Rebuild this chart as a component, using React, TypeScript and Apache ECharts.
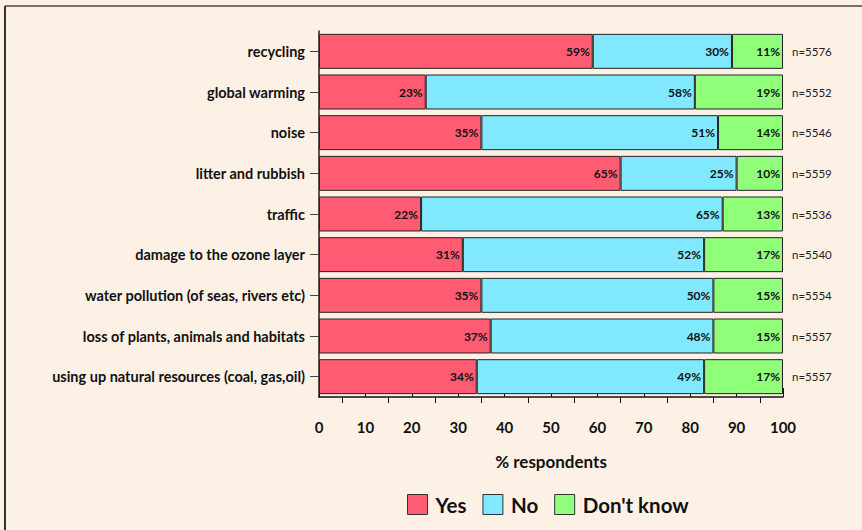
import React, { useEffect, useRef } from "react";
import * as echarts from "echarts";

const categories = [
  "recycling",
  "global warming",
  "noise",
  "litter and rubbish",
  "traffic",
  "damage to the ozone layer",
  "water pollution (of seas, rivers etc)",
  "loss of plants, animals and habitats",
  "using up natural resources (coal, gas,oil)",
];
const yesValues = [59, 23, 35, 65, 22, 31, 35, 37, 34];
const noValues = [30, 58, 51, 25, 65, 52, 50, 48, 49];
const dontKnowValues = [11, 19, 14, 10, 13, 17, 15, 15, 17];
const sampleSizes = ["n=5576", "n=5552", "n=5546", "n=5559", "n=5536", "n=5540", "n=5554", "n=5557", "n=5557"];
const xTicks = [0, 10, 20, 30, 40, 50, 60, 70, 80, 90, 100];
const minorTicks = [5, 15, 25, 35, 45, 55, 65, 75, 85, 95];

const FONT = "Lato, 'Open Sans', sans-serif";

export default function App() {
  const ref = useRef<HTMLDivElement>(null);
  useEffect(() => {
    if (!ref.current) return;
    const chart = echarts.init(ref.current, null, { renderer: "svg" });
    const label = {
      show: true,
      position: "insideRight",
      formatter: "{c}%",
      fontFamily: FONT,
      fontWeight: "bold",
      fontSize: 12,
      color: "#111",
      distance: 3,
    };
    const mk = (name: string, data: number[], color: string) => ({
      name,
      type: "bar",
      stack: "total",
      data,
      barWidth: "86%",
      itemStyle: { color, borderColor: "#222", borderWidth: 1 },
      label,
    });
    chart.setOption({
      animation: false,
      backgroundColor: "#fdf1e6",
      textStyle: { fontFamily: FONT },
      grid: { left: 319, right: 79, top: 31, bottom: 133 },
      legend: {
        top: 489,
        left: 402,
        icon: "rect",
        itemWidth: 20,
        itemHeight: 20,
        itemGap: 16,
        textStyle: { fontFamily: FONT, fontWeight: "bold", fontSize: 20.5, color: "#111", padding: [0, 0, 0, 3] },
        data: ["Yes", "No", "Don't know"],
        itemStyle: { borderColor: "#333", borderWidth: 1 },
      },
      xAxis: [
        {
          type: "value",
          min: 0,
          max: 100,
          interval: 10,
          axisLine: { show: true, lineStyle: { color: "#111", width: 1.5 } },
          axisTick: { show: true, inside: true, length: 9, lineStyle: { color: "#111" }, customValues: xTicks },
          axisLabel: {
            customValues: xTicks,
            margin: 22,
            fontFamily: FONT,
            fontWeight: "bold",
            fontSize: 15,
            color: "#111",
          },
          splitLine: { show: false },
          name: "% respondents",
          nameLocation: "middle",
          nameGap: 56,
          nameTextStyle: { fontFamily: FONT, fontWeight: "bold", fontSize: 17, color: "#111" },
        },
        {
          type: "value",
          min: 0,
          max: 100,
          position: "bottom",
          axisLine: { show: false },
          axisTick: { show: true, length: 6, lineStyle: { color: "#111" }, customValues: minorTicks },
          axisLabel: { show: false },
          splitLine: { show: false },
        },
      ],
      yAxis: [
        {
          type: "category",
          data: categories,
          inverse: true,
          axisLine: { show: true, lineStyle: { color: "#222", width: 1.5 } },
          axisTick: { show: true, alignWithLabel: true, length: 9, lineStyle: { color: "#444" } },
          axisLabel: { fontFamily: FONT, fontWeight: "bold", fontSize: 14.5, color: "#111", margin: 14 },
        },
        {
          type: "category",
          data: sampleSizes,
          inverse: true,
          position: "right",
          axisLine: { show: false },
          axisTick: { show: false },
          axisLabel: { fontFamily: FONT, fontSize: 11.5, color: "#222", margin: 9 },
        },
      ],
      series: [
        mk("Yes", yesValues, "#ff5c74"),
        mk("No", noValues, "#80e8ff"),
        mk("Don't know", dontKnowValues, "#90ff7a"),
      ],
      graphic: [
        { type: "line", shape: { x1: 5, y1: 6, x2: 862, y2: 6 }, style: { stroke: "#444", lineWidth: 1.5 } },
        { type: "line", shape: { x1: 5, y1: 6, x2: 5, y2: 530 }, style: { stroke: "#333", lineWidth: 2 } },
      ],
    });
    return () => chart.dispose();
  }, []);
  return <div ref={ref} style={{ position: "fixed", left: 0, top: 0, width: 862, height: 530 }} />;
}
